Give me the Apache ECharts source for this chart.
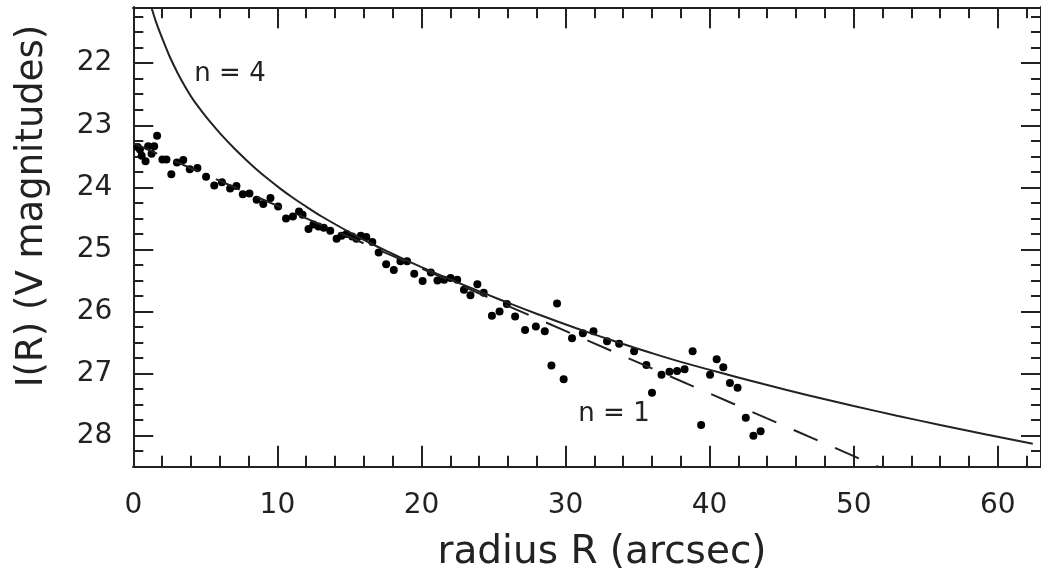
<!DOCTYPE html>
<html>
<head>
<meta charset="utf-8">
<script src="https://cdn.jsdelivr.net/npm/echarts@6/dist/echarts.min.js"></script>
<style>
html,body{margin:0;padding:0;background:#ffffff;}
#chart{width:1041px;height:583px;}
</style>
</head>
<body>
<div id="chart"></div>
<script>
// Observed surface brightness points
const pointR = [0.30,0.46,0.58,0.85,1.03,1.27,1.45,1.65,2.02,2.30,
  2.64,3.03,3.47,3.92,4.45,5.05,5.62,6.15,6.72,7.16,
  7.60,8.06,8.56,9.02,9.52,10.05,10.60,11.08,11.50,11.75,
  12.16,12.50,12.85,13.22,13.67,14.11,14.45,14.80,15.19,15.49,
  15.79,16.17,16.59,17.03,17.55,18.08,18.54,19.00,19.50,20.08,
  20.65,21.11,21.57,22.02,22.48,22.95,23.40,23.88,24.32,24.89,
  25.42,25.93,26.50,27.19,27.94,28.56,29.02,29.41,29.87,30.45,
  31.20,31.94,32.88,33.72,34.76,35.61,36.00,36.66,37.21,37.74,
  38.26,38.82,39.41,40.03,40.49,40.95,41.41,41.94,42.51,43.04,
  43.54];
const pointMag = [23.35,23.39,23.49,23.58,23.34,23.46,23.34,23.17,23.55,23.55,
  23.79,23.60,23.56,23.71,23.69,23.83,23.97,23.92,24.02,23.98,
  24.11,24.10,24.20,24.27,24.17,24.31,24.50,24.47,24.39,24.44,
  24.67,24.60,24.63,24.65,24.70,24.83,24.78,24.75,24.79,24.83,
  24.78,24.80,24.88,25.05,25.24,25.33,25.19,25.19,25.39,25.51,
  25.37,25.50,25.49,25.46,25.49,25.65,25.74,25.56,25.70,26.07,
  26.00,25.88,26.08,26.30,26.24,26.32,26.87,25.87,27.09,26.43,
  26.35,26.32,26.48,26.52,26.64,26.86,27.31,27.02,26.97,26.96,
  26.93,26.64,27.83,27.02,26.77,26.90,27.15,27.23,27.71,28.00,
  27.93];

// n=4 (de Vaucouleurs) curve
const n4R   = [1.27,1.60,2.06,2.50,3.10,3.60,4.13,4.70,5.28,6.10,7.00,7.80,8.60,9.40,10.20,11.00,11.80,
  13.08,15.37,16.50,17.67,18.80,19.96,21.10,22.26,23.40,24.55,26.30,27.99,29.40,30.75,32.40,
  34.00,35.80,37.63,40.70,43.80,46.90,50.00,53.00,56.00,59.20,62.43];
const n4Mag = [21.11,21.35,21.63,21.88,22.17,22.38,22.58,22.76,22.93,23.15,23.37,23.55,23.72,23.875,24.02,24.155,24.28,
  24.47,24.77,24.905,25.037,25.159,25.28,25.394,25.508,25.617,25.725,25.886,26.036,26.157,26.269,26.401,
  26.524,26.657,26.787,26.983,27.172,27.352,27.522,27.678,27.828,27.982,28.131];

// n=1 (exponential) line
const n1R   = [0, 51.7];
const n1Mag = [23.29, 28.5];

// Axis ticks
const xMajorTicks = [0,10,20,30,40,50,60];
const xMinorTicks = [2,4,6,8,12,14,16,18,22,24,26,28,32,34,36,38,42,44,46,48,52,54,56,58,62];
const yMajorTicks = [22,23,24,25,26,27,28];
const yMinorTicks = [21.25,21.5,21.75,22.25,22.5,22.75,23.25,23.5,23.75,24.25,24.5,24.75,
  25.25,25.5,25.75,26.25,26.5,26.75,27.25,27.5,27.75,28.25];

const INK = '#222222';
const FONT = 'DejaVu Sans';
const X_MIN = 0, X_MAX = 63, Y_MIN = 21.1, Y_MAX = 28.5;

function xAxisDef(pos, ticks, len, withLabels) {
  return {
    type: 'value', position: pos, min: X_MIN, max: X_MAX,
    axisLine: { show: true, onZero: false, lineStyle: { color: INK, width: 2 } },
    axisTick: { show: true, inside: true, length: len, customValues: ticks, lineStyle: { color: INK, width: 2 } },
    axisLabel: withLabels ? { show: true, customValues: ticks, margin: 25, color: INK, fontSize: 28, fontFamily: FONT } : { show: false },
    splitLine: { show: false }
  };
}
function yAxisDef(pos, ticks, len, withLabels) {
  return {
    type: 'value', position: pos, min: Y_MIN, max: Y_MAX, inverse: true,
    axisLine: { show: true, onZero: false, lineStyle: { color: INK, width: 2 } },
    axisTick: { show: true, inside: true, length: len, customValues: ticks, lineStyle: { color: INK, width: 2 } },
    axisLabel: withLabels ? { show: true, customValues: ticks, margin: 21, color: INK, fontSize: 28, fontFamily: FONT } : { show: false },
    splitLine: { show: false }
  };
}

const chart = echarts.init(document.getElementById('chart'), null, { renderer: 'canvas' });
chart.setOption({
  animation: false,
  backgroundColor: '#ffffff',
  grid: { left: 133.3, top: 7.3, width: 914.7, height: 459.4, containLabel: false },
  xAxis: [
    xAxisDef('bottom', xMajorTicks, 21, true),
    xAxisDef('bottom', xMinorTicks, 11, false),
    xAxisDef('top', xMajorTicks, 21, false),
    xAxisDef('top', xMinorTicks, 11, false)
  ],
  yAxis: [
    yAxisDef('left', yMajorTicks, 20, true),
    yAxisDef('left', yMinorTicks, 10, false),
    yAxisDef('right', yMajorTicks, 20, false),
    yAxisDef('right', yMinorTicks, 10, false)
  ],
  series: [
    {
      type: 'line', name: 'n=4', xAxisIndex: 0, yAxisIndex: 0,
      data: n4R.map((r, i) => [r, n4Mag[i]]),
      smooth: 0.3, showSymbol: false, clip: true,
      lineStyle: { color: INK, width: 2 }
    },
    {
      type: 'line', name: 'n=1', xAxisIndex: 0, yAxisIndex: 0,
      data: n1R.map((r, i) => [r, n1Mag[i]]),
      showSymbol: false, clip: true,
      lineStyle: { color: INK, width: 2, type: [26, 19] }
    },
    {
      type: 'scatter', name: 'data', xAxisIndex: 0, yAxisIndex: 0,
      data: pointR.map((r, i) => [r, pointMag[i]]),
      symbol: 'circle', symbolSize: 8,
      itemStyle: { color: '#000000', opacity: 1 }
    }
  ],
  graphic: [
    { type: 'text', x: 230, y: 74, style: { text: 'n = 4', fill: INK, font: '26px "DejaVu Sans"', align: 'center', verticalAlign: 'middle' } },
    { type: 'text', x: 614, y: 414, style: { text: 'n = 1', fill: INK, font: '26px "DejaVu Sans"', align: 'center', verticalAlign: 'middle' } },
    { type: 'text', x: 602, y: 553, style: { text: 'radius R (arcsec)', fill: INK, font: '39px "DejaVu Sans"', align: 'center', verticalAlign: 'middle' } },
    { type: 'text', x: 32, y: 206, rotation: Math.PI / 2, style: { text: 'I(R) (V magnitudes)', fill: INK, font: '37px "DejaVu Sans"', align: 'center', verticalAlign: 'middle' } }
  ]
});
</script>
</body>
</html>
